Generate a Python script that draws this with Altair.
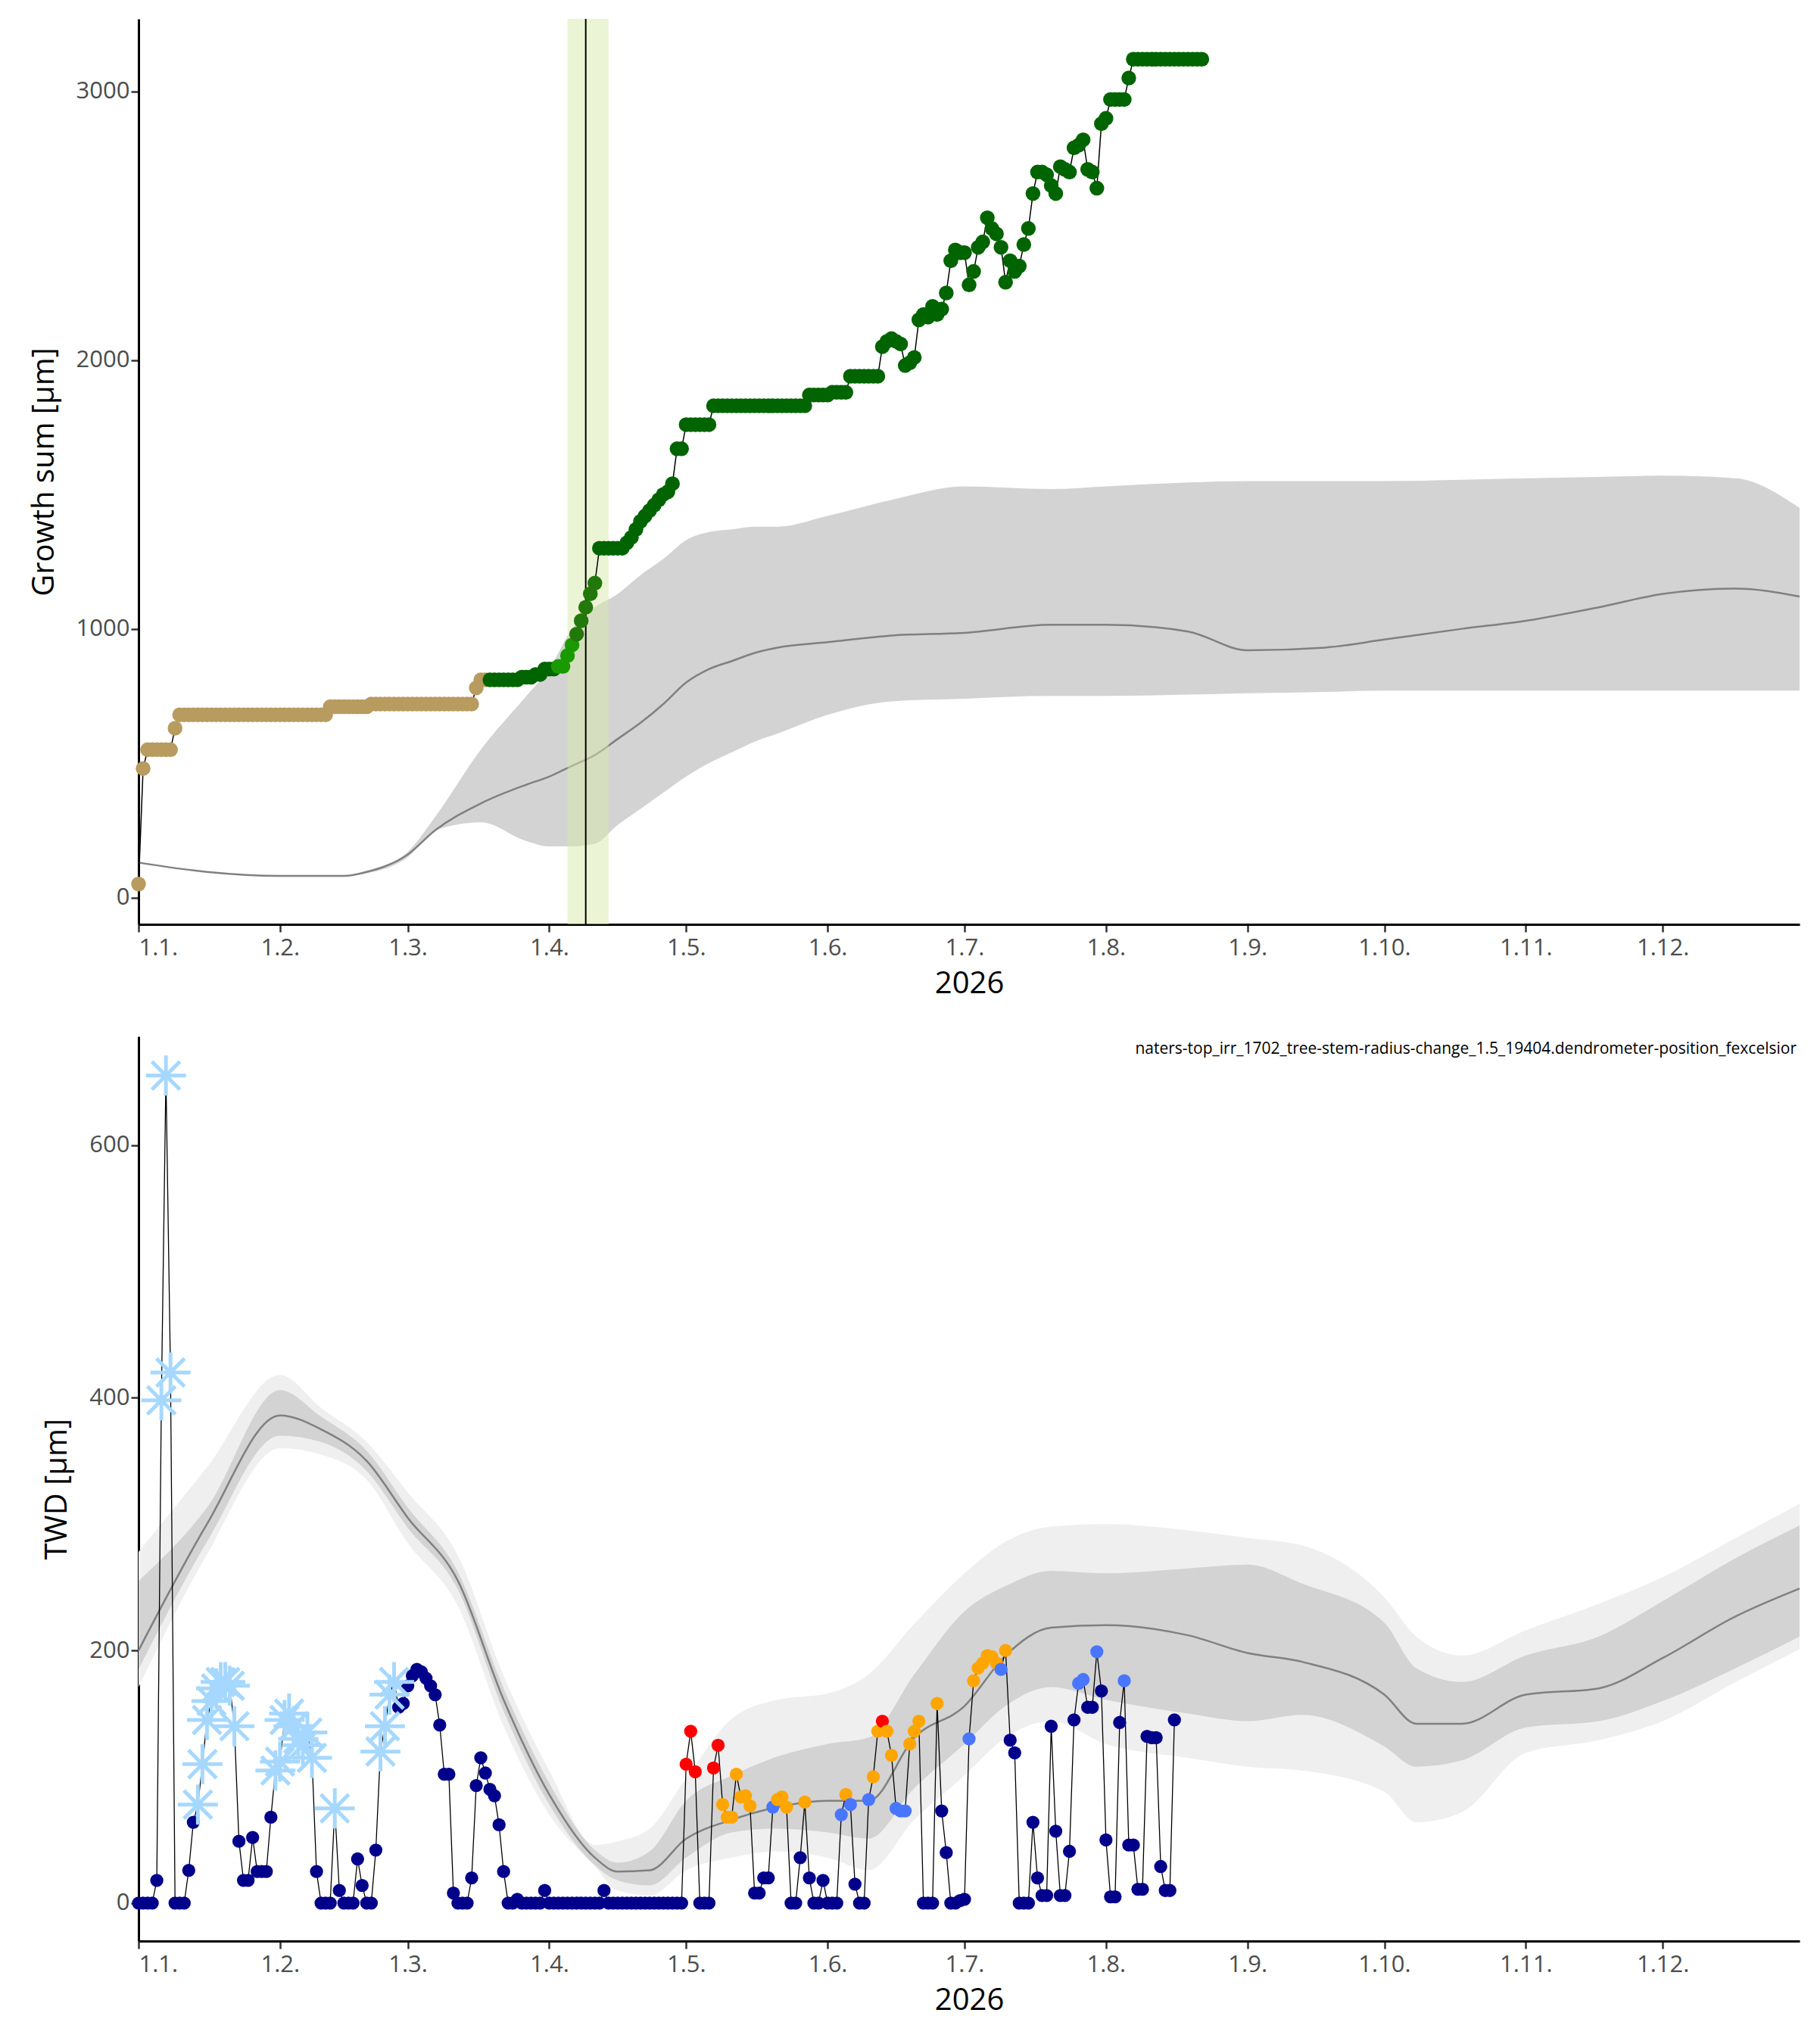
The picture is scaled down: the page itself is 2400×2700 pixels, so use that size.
import altair as alt
import pandas as pd

# ---- top panel: growth sum, runs of (start day, end day, value, colour group)
growth_runs = [
    (0, 0, 50, 'tan'), (1, 1, 480, 'tan'), (2, 7, 550, 'tan'), (8, 8, 630, 'tan'),
    (9, 41, 680, 'tan'), (42, 50, 710, 'tan'), (51, 73, 720, 'tan'), (74, 74, 780, 'tan'),
    (75, 76, 810, 'tan'), (77, 83, 810, 'dark'), (84, 86, 820, 'dark'), (87, 88, 830, 'dark'),
    (89, 91, 850, 'dark'), (92, 93, 860, 'bright'), (94, 94, 900, 'bright'), (95, 95, 940, 'bright'),
    (96, 96, 980, 'mid'), (97, 97, 1030, 'mid'), (98, 98, 1080, 'mid'), (99, 99, 1130, 'mid'),
    (100, 100, 1170, 'mid'), (101, 106, 1300, 'dark'),
]
growth_ramp_start = 107
growth_ramp = [1320, 1340, 1370, 1400, 1420, 1440, 1460, 1480, 1500, 1510, 1540]
growth_runs2 = [(118, 119, 1670), (120, 125, 1760), (126, 146, 1830), (147, 151, 1870),
                (152, 155, 1880), (156, 162, 1940)]
growth_noisy_start = 163
growth_noisy = [2050, 2070, 2080, 2070, 2060, 1980, 1990, 2010, 2150, 2170, 2160, 2200, 2170, 2190,
                2250, 2370, 2410, 2400, 2400, 2280, 2330, 2420, 2440, 2530, 2490, 2470, 2420, 2290,
                2370, 2330, 2350, 2430, 2490, 2620, 2700, 2700, 2690, 2650, 2620, 2720, 2710, 2700,
                2790, 2800, 2820, 2710, 2700, 2640, 2880, 2900]
growth_runs3 = [(213, 216, 2970), (217, 217, 3050), (218, 233, 3120)]

top_band_day = [0, 15, 31, 45, 50, 59, 65, 75, 85, 90, 95, 100, 105, 110, 115, 120, 125, 130, 135,
                140, 151, 165, 181, 200, 212, 230, 243, 260, 273, 290, 304, 320, 334, 350, 364]
top_mean = [130, 95, 80, 80, 95, 160, 250, 350, 420, 450, 490, 530, 590, 650, 720, 800, 850, 880, 910,
            930, 950, 975, 985, 1015, 1015, 990, 920, 930, 960, 1000, 1030, 1080, 1130, 1150, 1120]
top_upper = [130, 95, 80, 80, 100, 170, 300, 550, 750, 850, 1000, 1080, 1130, 1200, 1260, 1330, 1360,
             1370, 1380, 1380, 1420, 1480, 1530, 1520, 1530, 1545, 1550, 1550, 1550, 1555, 1560, 1565,
             1570, 1560, 1450]
top_lower = [130, 95, 80, 80, 90, 150, 250, 280, 210, 190, 190, 200, 270, 330, 390, 450, 500, 540, 580,
             610, 680, 730, 740, 750, 750, 755, 760, 765, 770, 770, 770, 770, 770, 770, 770]
event_day, event_start, event_end = 98, 94, 103

# ---- bottom panel: TWD, one value per day from 1 Jan
twd_val = [0, 0, 0, 0, 18, 398, 655, 420, 0, 0,
           0, 26, 64, 78, 110, 145, 160, 170, 175, 175,
           172, 140, 49, 18, 18, 52, 25, 25, 25, 68,
           105, 112, 145, 150, 140, 130, 125, 135, 115, 25,
           0, 0, 0, 75, 10, 0, 0, 0, 35, 14,
           0, 0, 42, 120, 140, 165, 175, 155, 158, 172,
           180, 185, 183, 178, 172, 165, 141, 102, 102, 8,
           0, 0, 0, 20, 93, 115, 103, 90, 85, 62,
           25, 0, 0, 3, 0, 0, 0, 0, 0, 10,
           0, 0, 0, 0, 0, 0, 0, 0, 0, 0,
           0, 0, 10, 0, 0, 0, 0, 0, 0, 0,
           0, 0, 0, 0, 0, 0, 0, 0, 0, 0,
           110, 136, 104, 0, 0, 0, 107, 125, 78, 68,
           68, 102, 84, 85, 77, 8, 8, 20, 20, 76,
           82, 84, 76, 0, 0, 36, 80, 20, 0, 0,
           18, 0, 0, 0, 70, 86, 78, 15, 0, 0,
           82, 100, 136, 144, 136, 117, 75, 73, 73, 126,
           136, 144, 0, 0, 0, 158, 73, 40, 0, 0,
           2, 3, 130, 176, 186, 190, 196, 195, 190, 185,
           200, 129, 119, 0, 0, 0, 64, 20, 6, 6,
           140, 57, 6, 6, 41, 145, 174, 177, 155, 155,
           199, 168, 50, 5, 5, 143, 176, 46, 46, 11,
           11, 132, 131, 131, 29, 10, 10, 145]
twd_cat = ("nnnnnsssnn" "nnnsssssss" "ssnnnnnnnn" "sssssssssn" "nnnsnnnnnn" "nnnssssnnn"
           "nnnnnnnnnn" "nnnnnnnnnn" "nnnnnnnnnn" "nnnnnnnnnn" "nnnnnnnnnn" "nnnnnnnnnn"
           "rrrnnnrroo" "ooooonnnnb" "ooonnnonnn" "nnnnbobnnn" "booroobbbo" "oonnnonnnn"
           "nnboooooob" "onnnnnnnnn" "nnnnnnbbnn" "bnnnnnbnnn" "nnnnnnnn")

bot_band_day = [0, 15, 31, 40, 50, 59, 70, 80, 90, 100, 105, 112, 120, 130, 140, 151, 160, 170, 181,
                190, 200, 212, 230, 243, 255, 273, 280, 290, 304, 320, 334, 350, 364]
bot_mean = [200, 300, 386, 375, 350, 305, 255, 161, 86, 36, 25, 26, 51, 66, 76, 81, 81, 131, 156, 196,
            218, 220, 212, 198, 191, 165, 142, 142, 165, 170, 194, 227, 249]
bot_in_hi = [255, 313, 406, 385, 358, 313, 262, 170, 95, 42, 32, 41, 81, 101, 116, 126, 131, 181, 231,
             251, 263, 261, 265, 268, 253, 222, 186, 175, 196, 211, 239, 273, 299]
bot_in_lo = [185, 286, 370, 365, 342, 297, 248, 152, 78, 30, 18, 14, 36, 56, 59, 56, 51, 91, 126, 156,
             171, 161, 150, 144, 149, 124, 108, 113, 139, 144, 160, 186, 211]
bot_out_hi = [278, 345, 418, 392, 365, 325, 275, 180, 105, 46, 49, 59, 99, 146, 161, 166, 181, 221,
              261, 286, 298, 300, 295, 289, 283, 242, 211, 196, 216, 237, 258, 289, 316]
bot_out_lo = [171, 276, 360, 355, 335, 285, 235, 140, 70, 29, 10, 6, 26, 36, 41, 36, 26, 66, 101, 131,
              144, 126, 115, 108, 105, 88, 64, 72, 119, 129, 144, 175, 201]

label = "naters-top_irr_1702_tree-stem-radius-change_1.5_19404.dendrometer-position_fexcelsior"

start = pd.Timestamp('2026-01-01')


def d(day):
    return (start + pd.Timedelta(days=int(day))).strftime('%Y-%m-%dT00:00:00')


# build tables
rows = []
for a, b, v, c in growth_runs:
    rows += [(k, v, c) for k in range(a, b + 1)]
rows += [(growth_ramp_start + i, v, 'dark') for i, v in enumerate(growth_ramp)]
for a, b, v in growth_runs2:
    rows += [(k, v, 'dark') for k in range(a, b + 1)]
rows += [(growth_noisy_start + i, v, 'dark') for i, v in enumerate(growth_noisy)]
for a, b, v in growth_runs3:
    rows += [(k, v, 'dark') for k in range(a, b + 1)]
growth = pd.DataFrame(rows, columns=['day', 'value', 'cat'])
growth['date'] = growth['day'].map(d)

top_band = pd.DataFrame({'date': [d(x) for x in top_band_day], 'mean': top_mean,
                         'lo': top_lower, 'hi': top_upper})

catmap = {'n': 'none', 's': 'frost', 'r': 'red', 'o': 'orange', 'b': 'blue'}
twd = pd.DataFrame({'day': range(len(twd_val)), 'value': twd_val,
                    'cat': [catmap[c] for c in twd_cat]})
twd['date'] = twd['day'].map(d)

bot_band = pd.DataFrame({'date': [d(x) for x in bot_band_day], 'mean': bot_mean,
                         'ilo': bot_in_lo, 'ihi': bot_in_hi, 'olo': bot_out_lo, 'ohi': bot_out_hi})

W, H = 2194, 1196
xdom = [alt.DateTime(year=2026, month=1, date=1), alt.DateTime(year=2026, month=12, date=31)]
xvals = [alt.DateTime(year=2026, month=m, date=1) for m in range(1, 13)]


def xenc(field='date'):
    return alt.X(f'{field}:T', title='2026', scale=alt.Scale(domain=xdom, nice=False),
                 axis=alt.Axis(values=xvals, format='%-d.%-m.', labelPadding=6))


# top panel
ty = alt.Scale(domain=[-100, 3270], nice=False, zero=False)
tyax = alt.Axis(values=[0, 1000, 2000, 3000], format='d', titlePadding=22)
t_band = alt.Chart(top_band).mark_area(color='#D3D3D3', interpolate='monotone').encode(
    x=xenc(), y=alt.Y('lo:Q', scale=ty, axis=tyax, title='Growth sum [µm]'), y2='hi:Q')
t_mean = alt.Chart(top_band).mark_line(color='#808080', strokeWidth=2.5, interpolate='monotone').encode(
    x=xenc(), y=alt.Y('mean:Q', scale=ty))
ev = pd.DataFrame({'s': [d(event_start)], 'e': [d(event_end)], 'm': [d(event_day)]})
t_rect = alt.Chart(ev).mark_rect(color='#D7EBAB', opacity=0.5).encode(
    x='s:T', x2='e:T', y=alt.value(0), y2=alt.value(H))
t_rule = alt.Chart(ev).mark_rule(color='black', strokeWidth=2).encode(x='m:T')
t_line = alt.Chart(growth).mark_line(color='black', strokeWidth=1.5).encode(
    x=xenc(), y=alt.Y('value:Q', scale=ty))
t_pts = alt.Chart(growth).mark_circle(size=380, opacity=1).encode(
    x=xenc(), y=alt.Y('value:Q', scale=ty),
    color=alt.Color('cat:N', legend=None, scale=alt.Scale(
        domain=['tan', 'dark', 'bright', 'mid'],
        range=['#B89B5E', '#006400', '#1A9A00', '#22780A'])))
top = alt.layer(t_band, t_mean, t_rect, t_rule, t_line, t_pts).properties(width=W, height=H)

# bottom panel
by = alt.Scale(domain=[-30, 686], nice=False, zero=False)
byax = alt.Axis(values=[0, 200, 400, 600], format='d', titlePadding=22)
b_out = alt.Chart(bot_band).mark_area(color='#EFEFEF', interpolate='monotone').encode(
    x=xenc(), y=alt.Y('olo:Q', scale=by, axis=byax, title='TWD [µm]'), y2='ohi:Q')
b_in = alt.Chart(bot_band).mark_area(color='#D3D3D3', interpolate='monotone').encode(
    x=xenc(), y=alt.Y('ilo:Q', scale=by), y2='ihi:Q')
b_mean = alt.Chart(bot_band).mark_line(color='#808080', strokeWidth=2.5, interpolate='monotone').encode(
    x=xenc(), y=alt.Y('mean:Q', scale=by))
b_line = alt.Chart(twd).mark_line(color='black', strokeWidth=1.3).encode(
    x=xenc(), y=alt.Y('value:Q', scale=by))
b_pts = alt.Chart(twd).transform_filter(alt.datum.cat != 'frost').mark_circle(size=300, opacity=1).encode(
    x=xenc(), y=alt.Y('value:Q', scale=by),
    color=alt.Color('cat:N', legend=None, scale=alt.Scale(
        domain=['none', 'red', 'orange', 'blue'],
        range=['#00008B', '#FF0000', '#FFA500', '#4876FF'])))
star = "M0,-1L0,1M-1,0L1,0M-0.7,-0.7L0.7,0.7M-0.7,0.7L0.7,-0.7"
b_frost = alt.Chart(twd).transform_filter(alt.datum.cat == 'frost').mark_point(
    shape=star, filled=False, size=2800, strokeWidth=5, color='#A6D8FF', opacity=1).encode(
    x=xenc(), y=alt.Y('value:Q', scale=by))
b_text = alt.Chart(pd.DataFrame({'t': [label]})).mark_text(
    align='right', baseline='top', fontSize=21, font='Open Sans', color='black').encode(
    x=alt.value(W - 4), y=alt.value(6), text='t:N')
bottom = alt.layer(b_out, b_in, b_mean, b_line, b_pts, b_frost, b_text).properties(width=W, height=H - 1)

chart = alt.vconcat(top, bottom, spacing=50).resolve_scale(color='independent').properties(
    padding={'left': 30, 'top': 16, 'right': 5, 'bottom': 5}
).configure_view(stroke=None).configure_axis(
    grid=False, domainColor='black', domainWidth=3, tickColor='#333333', tickWidth=2.5, tickSize=10,
    labelColor='#4D4D4D', labelFontSize=31, labelFont='Open Sans', titleFont='Open Sans',
    titleFontSize=40, titleFontWeight='normal', titleColor='black'
).configure_axisX(titlePadding=12)

chart.save("out.html", embed_options={"renderer": "svg", "actions": False})
